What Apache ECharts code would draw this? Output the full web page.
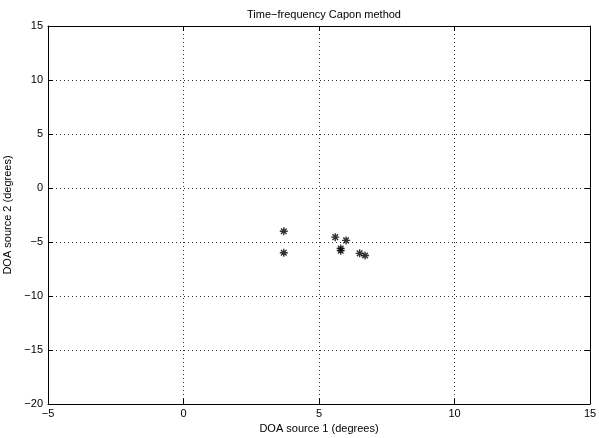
<!DOCTYPE html>
<html>
<head>
<meta charset="utf-8">
<script src="https://cdn.jsdelivr.net/npm/echarts@6/dist/echarts.min.js"></script>
<style>
  html, body { margin: 0; padding: 0; background: #fff; }
  #chart { width: 599px; height: 438px; }
</style>
</head>
<body>
<div id="chart"></div>
<script>
// DOA estimates
const doa1 = [3.7, 3.7, 5.6, 6.0, 5.8, 5.8, 6.5, 6.7];
const doa2 = [-4.0, -6.0, -4.55, -4.85, -5.6, -5.8, -6.05, -6.25];
const xTicks = [-5, 0, 5, 10, 15];
const yTicks = [-20, -15, -10, -5, 0, 5, 10, 15];

const points = doa1.map((x, i) => [x, doa2[i]]);
const fmt = v => String(v).replace('-', '\u2212');
const font = 'Liberation Sans, Arial, sans-serif';

// matlab style '*' marker
const star = 'path://M5 0L5 10M0 5L10 5M1.5 1.5L8.5 8.5M1.5 8.5L8.5 1.5';

const chart = echarts.init(document.getElementById('chart'), null, { renderer: 'canvas' });

const baseAxis = {
  type: 'value',
  interval: 5,
  axisLine: { show: true, onZero: false, lineStyle: { color: '#000', width: 1 } },
  axisTick: { show: true, inside: true, length: 5, lineStyle: { color: '#000' } },
  axisLabel: { color: '#000', fontFamily: font, fontSize: 11, formatter: fmt },
};

chart.setOption({
  animation: false,
  backgroundColor: '#fff',
  title: {
    text: 'Time\u2212frequency Capon method',
    left: 319, top: 4, textAlign: 'center',
    textStyle: { fontFamily: font, fontSize: 11, fontWeight: 'normal', color: '#000' }
  },
  grid: { left: 48, right: 9, top: 26, bottom: 34, containLabel: false, outerBoundsMode: 'none' },
  xAxis: [
    Object.assign({}, baseAxis, {
      min: xTicks[0], max: xTicks[xTicks.length - 1],
      position: 'bottom',
      name: 'DOA source 1 (degrees)', nameLocation: 'middle', nameGap: 18,
      nameTextStyle: { fontFamily: font, fontSize: 11, color: '#000' },
      axisLabel: Object.assign({}, baseAxis.axisLabel, { margin: 4 }),
      splitLine: { show: true, lineStyle: { color: '#333', type: [1, 3], width: 1 } }
    }),
    Object.assign({}, baseAxis, {
      min: xTicks[0], max: xTicks[xTicks.length - 1],
      position: 'top',
      axisLabel: { show: false },
      splitLine: { show: false }
    })
  ],
  yAxis: [
    Object.assign({}, baseAxis, {
      min: yTicks[0], max: yTicks[yTicks.length - 1],
      position: 'left',
      name: 'DOA source 2 (degrees)', nameLocation: 'middle', nameGap: 27,
      nameTextStyle: { fontFamily: font, fontSize: 11, color: '#000' },
      axisLabel: Object.assign({}, baseAxis.axisLabel, { margin: 5 }),
      splitLine: { show: true, lineStyle: { color: '#333', type: [1, 3], width: 1 } }
    }),
    Object.assign({}, baseAxis, {
      min: yTicks[0], max: yTicks[yTicks.length - 1],
      position: 'right',
      axisLabel: { show: false },
      splitLine: { show: false }
    })
  ],
  series: [
    {
      type: 'scatter',
      data: points,
      symbol: star,
      symbolSize: 8,
      itemStyle: { color: 'none', borderColor: '#000', borderWidth: 1.4 }
    }
  ]
});
</script>
</body>
</html>
